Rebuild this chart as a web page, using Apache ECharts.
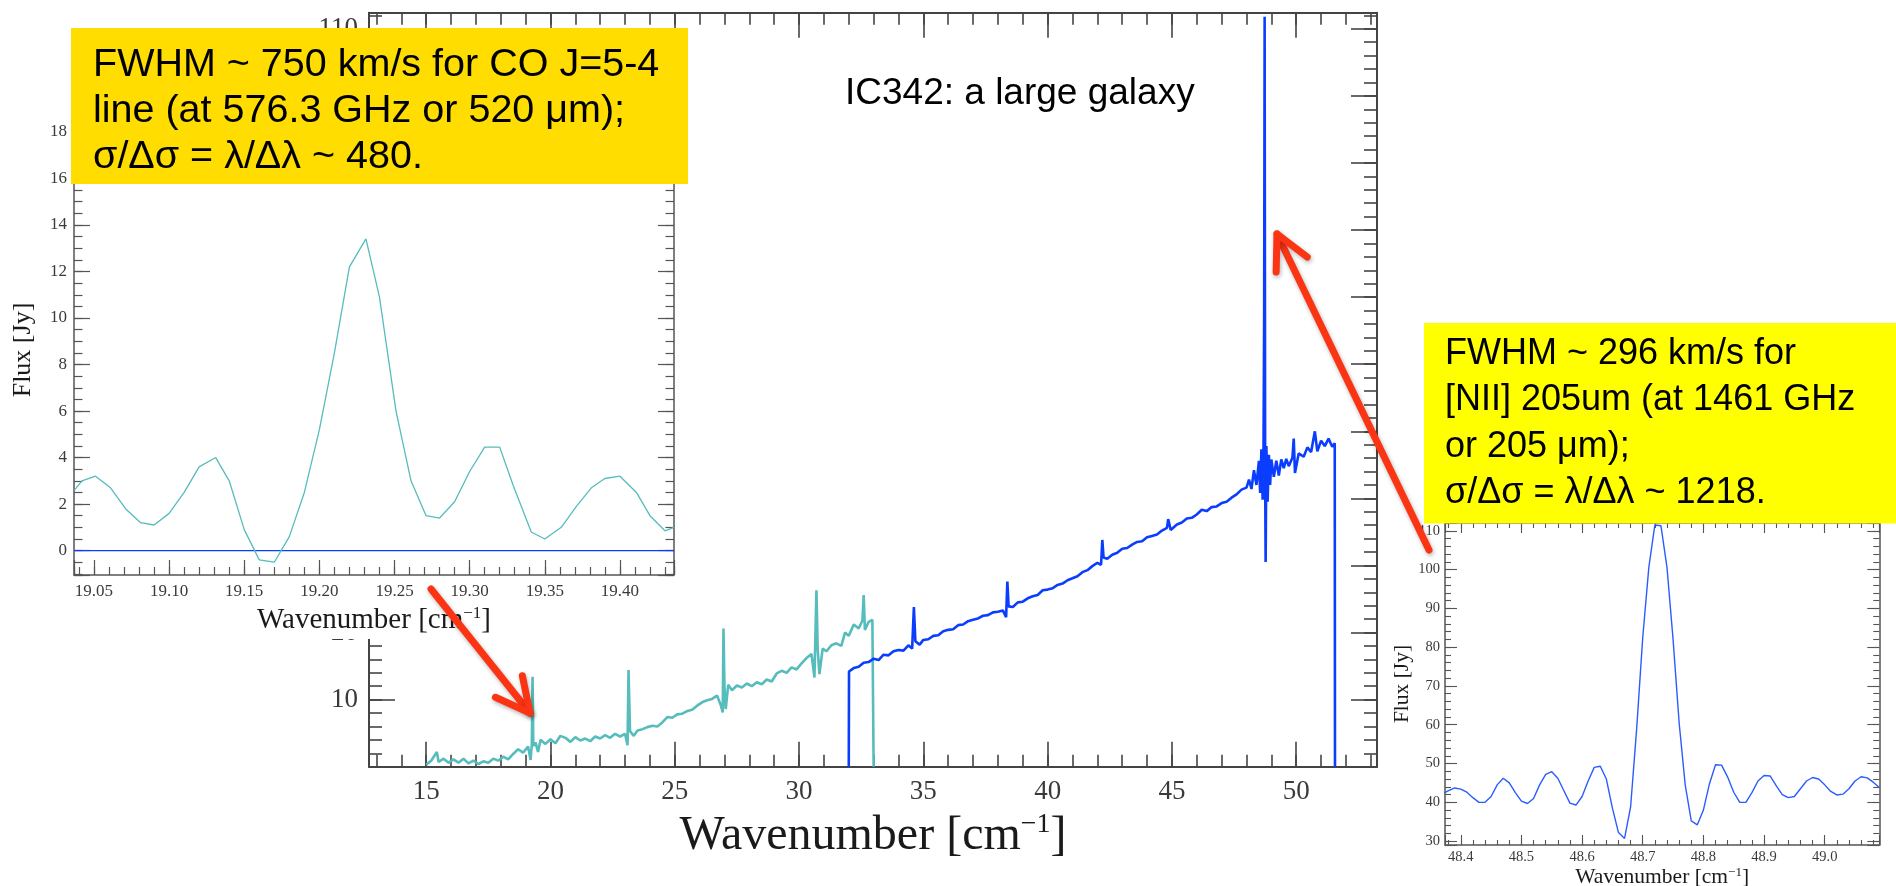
<!DOCTYPE html>
<html><head><meta charset="utf-8">
<script src="https://cdn.jsdelivr.net/npm/echarts@6/dist/echarts.min.js"></script>
<style>html,body{margin:0;padding:0;background:#fff}#c{width:1896px;height:886px}</style>
</head><body><div id="c"></div>
<script>
// ---------------- DATA ----------------
// Main spectrum, SLW (cyan) : wavenumber [cm-1] and flux [Jy]
const slwX = [15.0,15.2,15.43,15.5,15.7,15.9,16.1,16.3,16.5,16.7,16.9,17.1,17.3,17.5,17.7,17.9,18.1,18.3,18.5,18.7,18.9,19.1,19.2,19.25,19.28,19.31,19.4,19.5,19.6,19.8,20.0,20.2,20.4,20.6,20.8,21.0,21.2,21.4,21.6,21.8,22.0,22.2,22.4,22.6,22.8,23.0,23.1,23.14,23.2,23.35,23.5,23.7,23.9,24.1,24.3,24.5,24.7,24.9,25.1,25.3,25.5,25.7,25.9,26.1,26.3,26.5,26.7,26.85,26.93,26.96,27.0,27.05,27.15,27.3,27.5,27.7,27.9,28.1,28.3,28.5,28.7,28.9,29.1,29.3,29.5,29.7,29.9,30.1,30.3,30.5,30.62,30.7,30.75,30.82,30.95,31.1,31.3,31.5,31.7,31.85,32.0,32.2,32.4,32.55,32.6,32.65,32.8,32.95,33.0];
const slwY = [0.3,0.9,2.2,0.7,1.2,0.6,1.1,0.6,1.2,0.5,0.9,0.4,0.8,0.6,1.2,0.9,1.5,1.1,1.9,2.6,2.1,3.0,1.0,3.3,13.4,3.1,3.6,2.2,4.0,3.4,4.1,3.5,4.6,4.3,3.7,4.4,3.9,4.2,3.8,4.5,4.2,4.7,4.3,4.9,4.5,4.9,3.2,14.4,5.3,4.6,5.4,5.6,5.9,6.1,6.0,6.6,7.4,7.3,7.8,7.9,8.3,8.5,9.1,9.6,9.9,10.1,10.6,9.2,8.1,20.6,11.8,8.6,12.2,11.4,12.1,11.8,12.4,12.0,12.6,12.3,13.0,12.7,13.9,14.3,14.0,14.8,14.5,15.4,16.2,16.8,13.3,26.3,17.5,13.8,17.6,17.2,18.1,18.4,18.0,20.0,19.5,21.2,20.6,21.8,25.6,20.4,21.6,21.9,0];
// Main spectrum, SSW (blue)
const sswX = [32.0,32.01,32.2,32.4,32.6,32.8,33.0,33.2,33.4,33.6,33.8,34.0,34.2,34.4,34.55,34.62,34.68,34.85,35.0,35.2,35.4,35.6,35.8,36.0,36.2,36.4,36.6,36.8,37.0,37.2,37.4,37.6,37.8,38.0,38.2,38.33,38.38,38.43,38.6,38.8,39.0,39.2,39.4,39.6,39.8,40.0,40.2,40.4,40.6,40.8,41.0,41.2,41.4,41.6,41.8,42.0,42.15,42.2,42.25,42.4,42.6,42.8,43.0,43.2,43.4,43.6,43.8,44.0,44.2,44.4,44.6,44.8,44.85,44.95,45.2,45.4,45.6,45.8,46.0,46.2,46.4,46.6,46.8,47.0,47.2,47.4,47.6,47.8,48.0,48.1,48.2,48.3,48.4,48.5,48.55,48.6,48.65,48.68,48.71,48.73,48.75,48.77,48.8,48.85,48.9,48.95,49.0,49.1,49.2,49.3,49.4,49.5,49.6,49.7,49.85,49.9,49.95,50.1,50.3,50.45,50.6,50.75,50.85,51.0,51.15,51.3,51.45,51.55,51.56];
const sswY = [0,14.2,14.7,14.9,15.5,15.6,16.1,15.9,16.7,16.6,17.2,17.4,17.3,18.1,17.6,23.8,18.7,18.2,18.9,19.0,19.5,19.6,20.2,20.4,20.5,21.1,21.2,21.7,21.9,22.1,22.5,22.6,23.0,23.1,23.3,22.3,27.6,23.9,23.8,24.5,24.6,25.1,25.4,25.6,26.3,26.4,26.6,27.1,27.3,27.8,28.1,28.4,29.0,29.3,29.9,30.4,30.1,33.8,31.2,31.0,31.6,31.9,32.5,32.6,33.1,33.5,33.6,34.2,34.4,34.6,35.2,35.6,36.9,35.3,36.1,36.4,37.0,37.1,37.6,38.3,38.1,38.7,38.8,39.3,39.5,40.1,40.6,41.3,41.6,42.8,41.4,44.2,42.0,45.6,40.8,47.3,39.8,43.5,67.0,111.8,44.5,30.5,47.8,39.5,46.5,42.0,45.8,43.2,45.6,43.4,45.8,44.5,45.9,44.8,46.1,48.9,43.8,46.7,46.2,47.6,46.9,50.0,47.0,48.6,47.8,48.9,47.7,48.2,0];
// Left inset: CO J=5-4 line (SLW)
const coX = [19.037,19.042,19.051,19.061,19.071,19.081,19.090,19.100,19.110,19.120,19.131,19.140,19.150,19.160,19.170,19.180,19.190,19.200,19.210,19.220,19.231,19.240,19.251,19.261,19.271,19.280,19.290,19.300,19.310,19.320,19.329,19.341,19.350,19.361,19.371,19.381,19.390,19.400,19.411,19.420,19.430,19.436];
const coY = [2.6,3.0,3.2,2.7,1.8,1.2,1.1,1.6,2.5,3.6,4.0,3.0,0.9,-0.4,-0.5,0.6,2.5,5.2,8.5,12.2,13.4,10.9,6.0,3.0,1.5,1.4,2.1,3.4,4.45,4.45,2.8,0.8,0.5,1.0,1.9,2.7,3.1,3.2,2.5,1.5,0.85,1.0];
const coSswX = [19.037,19.436];
const coSswY = [0,0];
// Right inset: [NII] 205 um line (SSW)
const niiX = [48.37,48.38,48.39,48.40,48.41,48.42,48.43,48.44,48.45,48.46,48.47,48.48,48.49,48.50,48.51,48.52,48.53,48.54,48.55,48.56,48.57,48.58,48.59,48.60,48.61,48.62,48.63,48.64,48.65,48.66,48.67,48.68,48.69,48.70,48.71,48.72,48.73,48.74,48.75,48.76,48.77,48.78,48.79,48.80,48.81,48.82,48.83,48.84,48.85,48.86,48.87,48.88,48.89,48.90,48.91,48.92,48.93,48.94,48.95,48.96,48.97,48.98,48.99,49.00,49.01,49.02,49.03,49.04,49.05,49.06,49.07,49.08,49.09];
const niiY = [42.2,43.0,43.7,43.4,42.6,41.2,40.0,40.0,41.5,44.5,46.2,45.0,42.5,40.3,39.7,41.0,44.5,47.2,47.9,46.2,43.0,39.8,39.3,41.5,45.5,49.0,49.3,46.0,38.5,32.2,30.7,38.8,59.0,82.5,100.5,111.5,111.3,100.5,82.0,60.5,44.5,35.2,34.2,38.0,44.8,49.7,49.6,46.5,42.6,40.0,40.0,42.5,45.5,46.9,46.8,44.3,42.0,41.2,41.5,43.5,45.5,46.4,46.0,44.5,42.8,41.9,42.1,43.5,45.5,46.6,46.3,45.2,43.8];
// Tick steps (major, minor)
const mainXTicks = [5, 1], mainYTicks = [10, 2];
const coXTicks = [0.05, 0.01], coYTicks = [2, 0.5];
const niiXTicks = [0.1, 0.02], niiYTicks = [10, 2];
// Texts
const titleText = 'IC342: a large galaxy';
const coNote = ['FWHM ~ 750 km/s for CO J=5-4', 'line (at 576.3 GHz or 520 \u03bcm);', '\u03c3/\u0394\u03c3 = \u03bb/\u0394\u03bb ~ 480.'];
const niiNote = ['FWHM ~ 296 km/s for', '[NII] 205um (at 1461 GHz', 'or 205 \u03bcm);', '\u03c3/\u0394\u03c3 = \u03bb/\u0394\u03bb ~ 1218.'];

// ---------------- HELPERS ----------------
const pairs = (xs, ys) => xs.map((x, i) => [x, ys[i]]);
const isMult = (v, s) => Math.abs(v / s - Math.round(v / s)) < 1e-6;
const SERIF = '"Liberation Serif", "DejaVu Serif", serif';
const SANS = '"Liberation Sans", Arial, sans-serif';

const xAxes = [], yAxes = [];
function addAxes(list, dim, g, o) {
  const A = dim === 'x' ? 'bottom' : 'left', B = dim === 'x' ? 'top' : 'right';
  const base = {type: 'value', gridIndex: g, min: o.min, max: o.max, splitLine: {show: false}, zlevel: o.zlevel, z: 2, silent: true};
  const tickStyle = {color: o.color, width: o.tickW};
  const first = list.length;
  [A, B].forEach((pos, k) => {
    list.push(Object.assign({}, base, {
      position: pos, minInterval: o.steps[0], maxInterval: o.steps[0],
      axisLine: {show: true, onZero: false, lineStyle: {color: o.color, width: o.lineW}},
      axisTick: {show: true, inside: true, length: o.majLen, lineStyle: tickStyle},
      axisLabel: k === 0 ? {show: true, margin: o.margin, formatter: o.fmt, color: '#3a3a3a', fontFamily: SERIF, fontSize: o.fontSize} : {show: false},
      name: k === 0 ? o.name : '', nameLocation: 'middle', nameGap: o.nameGap, nameTextStyle: o.nameStyle
    }));
    list.push(Object.assign({}, base, {
      position: pos, minInterval: o.steps[1], maxInterval: o.steps[1],
      axisLine: {show: false, onZero: false},
      axisTick: {show: true, inside: true, length: o.minLen, lineStyle: tickStyle},
      axisLabel: {show: false}
    }));
  });
  return first;
}
function wnName(big, small, lh) {
  return {
    name: '{t|Wavenumber [cm}{s|\u22121}{t|]}',
    style: {rich: {
      t: {fontFamily: SERIF, fontSize: big, color: '#1a1a1a', lineHeight: lh},
      s: {fontFamily: SERIF, fontSize: small, color: '#1a1a1a', lineHeight: small, verticalAlign: 'top'}
    }}
  };
}
const fluxStyle = (fs) => ({fontFamily: SERIF, fontSize: fs, color: '#1a1a1a', lineHeight: fs + 2});

// ---------------- GRIDS ----------------
const grids = [
  {left: 369, top: 12.7, width: 1008, height: 754, zlevel: 0},
  {left: 74, top: 125, width: 600, height: 450, zlevel: 1},
  {left: 1445, top: 523, width: 434.3, height: 322, zlevel: 1}
].map(g => Object.assign({show: false, containLabel: false, outerBoundsMode: 'none'}, g));

const wnMain = wnName(48, 28, 52), wnCo = wnName(29, 17, 31), wnNii = wnName(21.5, 13, 22);
// main
const mx = addAxes(xAxes, 'x', 0, {min: 12.7, max: 53.25, steps: mainXTicks, majLen: 25, minLen: 12, lineW: 2, tickW: 1.6, color: '#444', zlevel: 0,
  margin: 12, fontSize: 27, fmt: v => isMult(v, mainXTicks[0]) ? String(Math.round(v)) : '', name: wnMain.name, nameGap: 42, nameStyle: wnMain.style});
const my = addAxes(yAxes, 'y', 0, {min: 0, max: 112.4, steps: mainYTicks, majLen: 26, minLen: 13, lineW: 2, tickW: 1.6, color: '#444', zlevel: 0,
  margin: 11, fontSize: 27, fmt: v => (isMult(v, mainYTicks[0]) && v > 0) ? String(Math.round(v)) : ''});
// CO inset
const cx = addAxes(xAxes, 'x', 1, {min: 19.0367, max: 19.436, steps: coXTicks, majLen: 15, minLen: 8, lineW: 1.5, tickW: 1.2, color: '#555', zlevel: 1,
  margin: 8, fontSize: 17, fmt: v => isMult(v, coXTicks[0]) ? v.toFixed(2) : '', name: wnCo.name, nameGap: 26, nameStyle: wnCo.style});
const cy = addAxes(yAxes, 'y', 1, {min: -1.05, max: 18.3, steps: coYTicks, majLen: 16, minLen: 8.5, lineW: 1.5, tickW: 1.2, color: '#555', zlevel: 1,
  margin: 7, fontSize: 17, fmt: v => isMult(v, coYTicks[0]) ? String(Math.round(v)) : '', name: 'Flux [Jy]', nameGap: 37, nameStyle: fluxStyle(26)});
// NII inset
const nx = addAxes(xAxes, 'x', 2, {min: 48.374, max: 49.09, steps: niiXTicks, majLen: 10, minLen: 5, lineW: 1.5, tickW: 1.1, color: '#555', zlevel: 1,
  margin: 5, fontSize: 14.5, fmt: v => isMult(v, niiXTicks[0]) ? v.toFixed(1) : '', name: wnNii.name, nameGap: 19, nameStyle: wnNii.style});
const ny = addAxes(yAxes, 'y', 2, {min: 29, max: 112, steps: niiYTicks, majLen: 12, minLen: 6, lineW: 1.5, tickW: 1.1, color: '#555', zlevel: 1,
  margin: 5, fontSize: 14.5, fmt: v => isMult(v, niiYTicks[0]) ? String(Math.round(v)) : '', name: 'Flux [Jy]', nameGap: 30, nameStyle: fluxStyle(21.5)});

const CYAN = '#56bcbc', BLUE = '#0b3dff', BLUE2 = '#2a5cff';
function line(xi, yi, data, color, w, zl) {
  return {type: 'line', xAxisIndex: xi, yAxisIndex: yi, data, showSymbol: false, symbol: 'none', clip: true,
    lineStyle: {color, width: w}, zlevel: zl, z: 4, silent: true, animation: false};
}
const series = [
  line(mx, my, pairs(slwX, slwY), CYAN, 2.6, 0),
  line(mx, my, pairs(sswX, sswY), BLUE, 2.6, 0),
  line(cx, cy, pairs(coSswX, coSswY), BLUE, 1.4, 1),
  line(cx, cy, pairs(coX, coY), CYAN, 1.3, 1),
  line(nx, ny, pairs(niiX, niiY), BLUE2, 1.4, 1)
];

// ---------------- ANNOTATIONS ----------------
const RED = '#fb3413';
function arrow(tip, tail) {
  const a = Math.atan2(tail[1] - tip[1], tail[0] - tip[0]);
  const L = 38, d = 27 * Math.PI / 180;
  const w1 = [tip[0] + L * Math.cos(a + d), tip[1] + L * Math.sin(a + d)];
  const w2 = [tip[0] + L * Math.cos(a - d), tip[1] + L * Math.sin(a - d)];
  const st = {stroke: RED, fill: 'none', lineWidth: 7, lineCap: 'round', lineJoin: 'round',
    shadowBlur: 4, shadowColor: 'rgba(0,0,0,0.3)', shadowOffsetX: 1, shadowOffsetY: 2};
  return [
    {type: 'polyline', shape: {points: [tail, tip]}, style: st, zlevel: 2, z: 20},
    {type: 'polyline', shape: {points: [w1, tip, w2]}, style: st, zlevel: 2, z: 20}
  ];
}
const graphic = [
  {type: 'rect', shape: {x: 0, y: 30, width: 690, height: 609}, style: {fill: '#ffffff'}, zlevel: 1, z: 0, silent: true},
  {type: 'rect', shape: {x: 71, y: 28, width: 617, height: 156}, style: {fill: '#ffdd00'}, zlevel: 2, z: 10},
  {type: 'rect', shape: {x: 1424, y: 323, width: 472, height: 200.5}, style: {fill: '#ffff00'}, zlevel: 2, z: 10},
  {type: 'text', x: 93, y: 42.5, style: {text: coNote.join('\n'), fontFamily: SANS, fontSize: 39.5, fill: '#000', lineHeight: 46, verticalAlign: 'top', align: 'left'}, zlevel: 2, z: 12},
  {type: 'text', x: 1445, y: 331, style: {text: niiNote.join('\n'), fontFamily: SANS, fontSize: 36, fill: '#000', lineHeight: 46.3, verticalAlign: 'top', align: 'left'}, zlevel: 2, z: 12},
  {type: 'text', x: 845, y: 93.5, style: {text: titleText, fontFamily: SANS, fontSize: 37, fill: '#000', verticalAlign: 'middle', align: 'left'}, zlevel: 2, z: 12},
  ...arrow([530, 713], [431, 589]),
  ...arrow([1277, 234], [1429, 550])
];

const chart = echarts.init(document.getElementById('c'), null, {renderer: 'canvas'});
chart.setOption({
  animation: false,
  backgroundColor: '#ffffff',
  grid: grids,
  xAxis: xAxes,
  yAxis: yAxes,
  series,
  graphic
});
</script>
</body></html>
